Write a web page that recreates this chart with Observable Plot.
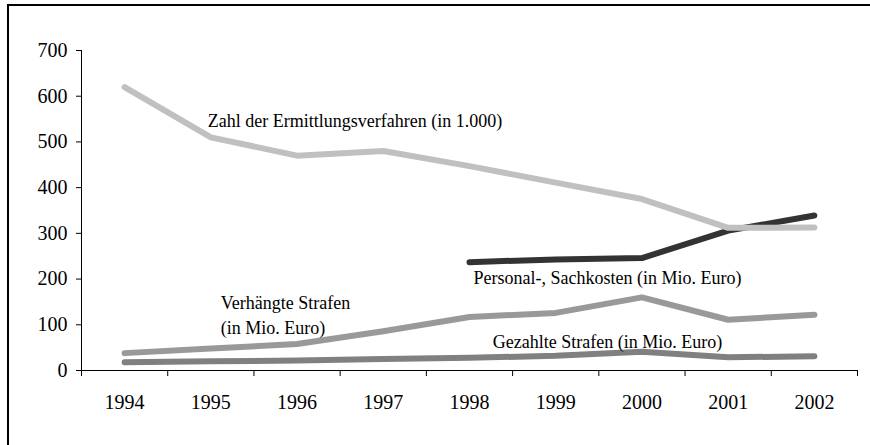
<!DOCTYPE html>
<html><head><meta charset="utf-8">
<script src="https://cdn.jsdelivr.net/npm/d3@7"></script>
<script src="https://cdn.jsdelivr.net/npm/@observablehq/plot@0.6"></script>
<style>
html,body{margin:0;padding:0;background:#fff;overflow:hidden}
#wrap{position:relative;width:870px;height:445px;overflow:hidden;background:#fff}
#wrap svg{position:absolute;left:0;top:0}
#wrap svg, #wrap svg text{font-family:"Liberation Serif","Times New Roman",serif !important}
#frame{position:absolute;left:7px;top:4px;width:2000px;height:2000px;border-top:2px solid #000;border-left:2px solid #000;pointer-events:none}
</style></head><body><div id="wrap"></div>
<script>
// Data
const years = [1994, 1995, 1996, 1997, 1998, 1999, 2000, 2001, 2002];
const ermittlungsverfahren = [620, 510, 470, 480, 447, 411, 375, 312, 313]; // in 1.000
const personalSachkosten = [null, null, null, null, 237, 243, 246, 306, 339]; // Mio. Euro
const verhaengteStrafen = [38, 48, 58, 86, 117, 126, 160, 111, 122]; // Mio. Euro
const gezahlteStrafen = [18, 20, 22, 25, 28, 32, 41, 29, 31]; // Mio. Euro
const yTicks = [0, 100, 200, 300, 400, 500, 600, 700];
const xBoundaries = [1993.5, 1994.5, 1995.5, 1996.5, 1997.5, 1998.5, 1999.5, 2000.5, 2001.5, 2002.5];

const labelErmittlung = "Zahl der Ermittlungsverfahren (in 1.000)";
const labelPersonal = "Personal-, Sachkosten (in Mio. Euro)";
const labelVerhaengt = "Verhängte Strafen\n(in Mio. Euro)";
const labelGezahlt = "Gezahlte Strafen (in Mio. Euro)";

const toRows = (vals) => years.map((year, i) => ({year, value: vals[i]})).filter(d => d.value != null);
const rowsE = toRows(ermittlungsverfahren);
const rowsP = toRows(personalSachkosten);
const rowsV = toRows(verhaengteStrafen);
const rowsG = toRows(gezahlteStrafen);

const serif = "Liberation Serif";
const lineOpts = {x: "year", y: "value", strokeWidth: 6, strokeLinecap: "round", strokeLinejoin: "round"};
const textOpts = {x: "year", y: "value", fontSize: 18, fontFamily: serif, textAnchor: "start", fill: "#000"};

const chart = Plot.plot({
  width: 870,
  height: 445,
  marginLeft: 81,
  marginRight: 13,
  marginTop: 50,
  marginBottom: 75,
  style: {fontFamily: serif, fontSize: "20px", color: "#000", background: "transparent"},
  x: {type: "linear", domain: [1993.5, 2002.5]},
  y: {domain: [0, 700]},
  marks: [
    Plot.ruleY([0], {stroke: "#000", strokeWidth: 1}),
    Plot.ruleX([xBoundaries[0]], {stroke: "#000", strokeWidth: 1}),
    Plot.axisY({ticks: yTicks, tickSize: 5, tickPadding: 9, tickFormat: d => String(d), label: null, stroke: "#000", fontFamily: serif, fontSize: 20}),
    Plot.axisX({ticks: xBoundaries, tickSize: 6, tickFormat: () => "", label: null, stroke: "#000"}),
    Plot.axisX({ticks: years, tickSize: 0, tickPadding: 24, tickFormat: d => String(d), label: null, fontFamily: serif, fontSize: 20}),
    Plot.line(rowsG, {...lineOpts, stroke: "#808080"}),
    Plot.line(rowsV, {...lineOpts, stroke: "#999999"}),
    Plot.line(rowsP, {...lineOpts, stroke: "#333333"}),
    Plot.line(rowsE, {...lineOpts, stroke: "#c0c0c0"}),
    Plot.text([rowsE[1]], {...textOpts, text: () => labelErmittlung, dx: -3, dy: -16}),
    Plot.text([rowsP[0]], {...textOpts, text: () => labelPersonal, dx: 4, dy: 16}),
    Plot.text([rowsV[1]], {...textOpts, text: () => labelVerhaengt, dx: 10, dy: -35, lineHeight: 1.39}),
    Plot.text([rowsG[5]], {...textOpts, text: () => labelGezahlt, dx: -63, dy: -14})
  ]
});
const wrap = document.getElementById("wrap");
wrap.appendChild(chart);
const frame = document.createElement("div");
frame.id = "frame";
wrap.appendChild(frame);
</script>
</body></html>
